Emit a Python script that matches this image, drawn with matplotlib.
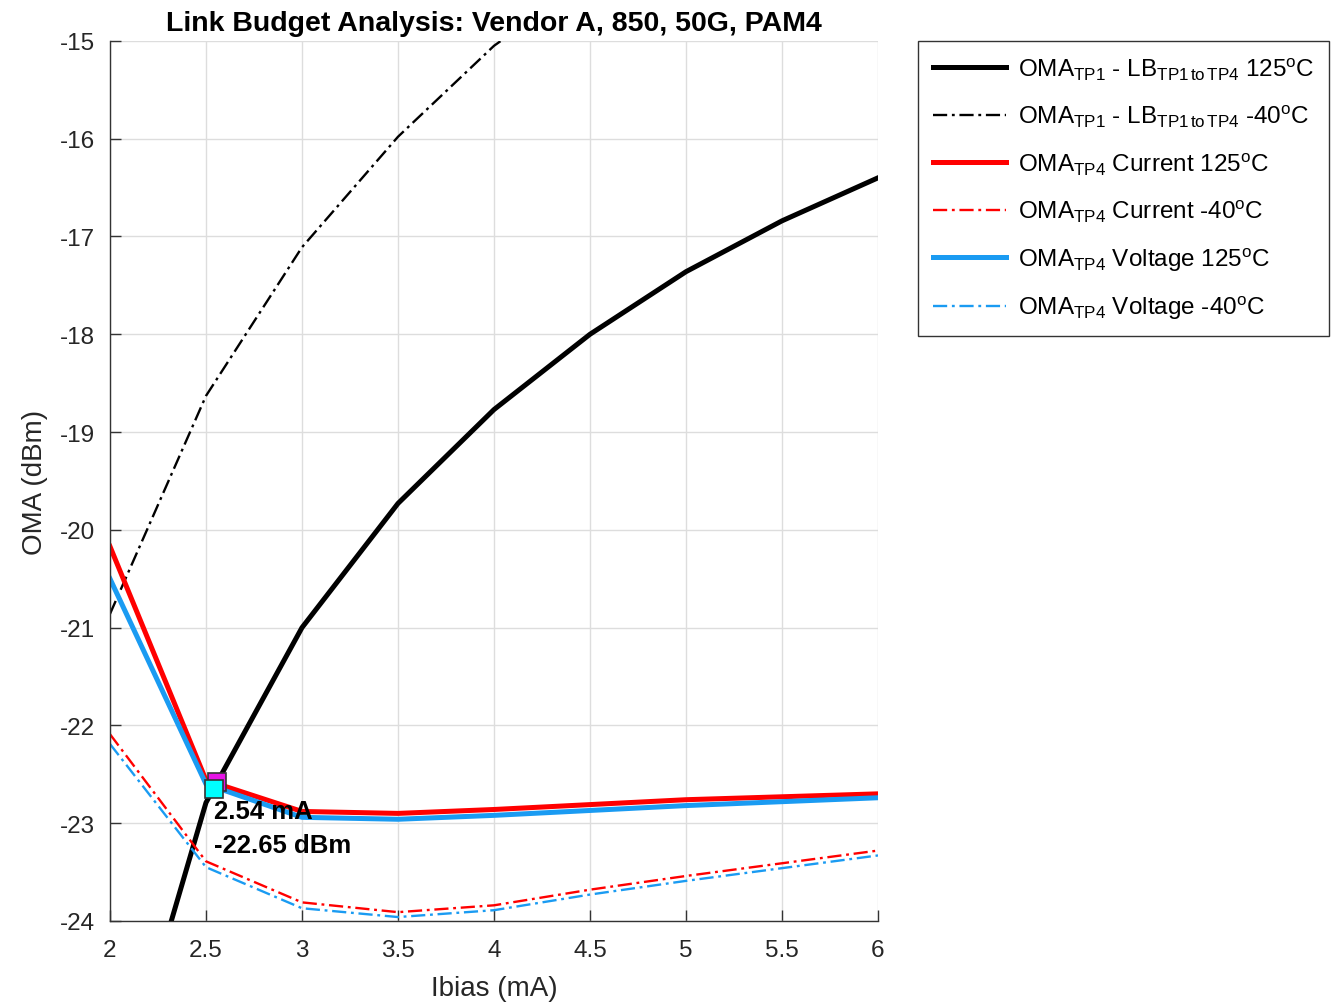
import matplotlib.pyplot as plt
import numpy as np

plt.rcParams["font.family"] = ["Liberation Sans", "DejaVu Sans"]
plt.rcParams["mathtext.fontset"] = "custom"
plt.rcParams["mathtext.rm"] = "Liberation Sans"
plt.rcParams["mathtext.it"] = "Liberation Sans:italic"
plt.rcParams["mathtext.bf"] = "Liberation Sans:bold"
plt.rcParams["axes.unicode_minus"] = False

# Bias current sweep (mA)
ibias = [2.0, 2.5, 3.0, 3.5, 4.0, 4.5, 5.0, 5.5, 6.0]

# OMA at TP1 minus link budget TP1->TP4 (dBm)
lb_125 = [-26.14, -22.79, -21.00, -19.73, -18.77, -18.00, -17.36, -16.84, -16.40]
lb_m40_x = [2.0, 2.5, 3.0, 3.5, 4.0, 4.5]
lb_m40 = [-20.86, -18.63, -17.11, -15.98, -15.05, -14.35]

# OMA at TP4, current-mode driver (dBm)
cur_125 = [-20.17, -22.56, -22.88, -22.90, -22.86, -22.81, -22.76, -22.73, -22.70]
cur_m40 = [-22.09, -23.39, -23.81, -23.91, -23.84, -23.68, -23.54, -23.41, -23.28]

# OMA at TP4, voltage-mode driver (dBm)
volt_125 = [-20.50, -22.60, -22.94, -22.96, -22.92, -22.87, -22.82, -22.78, -22.74]
volt_m40 = [-22.19, -23.45, -23.87, -23.96, -23.89, -23.73, -23.59, -23.46, -23.33]

# crossing points with the 125C link budget curve
cross_cur = (2.556, -22.58)
cross_volt = (2.54, -22.65)

RED = "#ff0000"
BLUE = "#1a9bf2"
DASHDOT = (0, (6, 2, 1.2, 2))
THICK = 3.6
THIN = 1.7

fig = plt.figure(figsize=(13.38, 10.03), dpi=100)
ax = fig.add_axes([0.0822, 0.0808, 0.574, 0.8774])

ax.plot(ibias, lb_125, color="black", lw=THICK,
        label=r"OMA$_{\mathrm{TP1}}$ - LB$_{\mathrm{TP1\,to\,TP4}}$ 125$^{\mathrm{o}}$C")
ax.plot(lb_m40_x, lb_m40, color="black", lw=THIN, ls=DASHDOT,
        label=r"OMA$_{\mathrm{TP1}}$ - LB$_{\mathrm{TP1\,to\,TP4}}$ -40$^{\mathrm{o}}$C")
ax.plot(ibias, cur_125, color=RED, lw=THICK,
        label=r"OMA$_{\mathrm{TP4}}$ Current 125$^{\mathrm{o}}$C")
ax.plot(ibias, cur_m40, color=RED, lw=THIN, ls=DASHDOT,
        label=r"OMA$_{\mathrm{TP4}}$ Current -40$^{\mathrm{o}}$C")
ax.plot(ibias, volt_125, color=BLUE, lw=THICK,
        label=r"OMA$_{\mathrm{TP4}}$ Voltage 125$^{\mathrm{o}}$C")
ax.plot(ibias, volt_m40, color=BLUE, lw=THIN, ls=DASHDOT,
        label=r"OMA$_{\mathrm{TP4}}$ Voltage -40$^{\mathrm{o}}$C")

ax.plot(*cross_cur, marker="s", ms=13, mfc="#e614e6", mec="#333333", mew=1.2, zorder=5)
ax.plot(*cross_volt, marker="s", ms=13, mfc="#00ffff", mec="#333333", mew=1.2, zorder=6)
ax.annotate(f"{cross_volt[0]:.2f} mA\n{cross_volt[1]:.2f} dBm", xy=cross_volt,
            xytext=(0, -7), textcoords="offset points", ha="left", va="top",
            fontsize=18.5, fontweight="bold", linespacing=1.55, zorder=7)

ax.set_xlim(2, 6)
ax.set_ylim(-24, -15)
ax.set_xticks(np.arange(2, 6.01, 0.5))
ax.set_xticklabels(["2", "2.5", "3", "3.5", "4", "4.5", "5", "5.5", "6"])
ax.set_yticks(np.arange(-24, -14.9, 1))
ax.grid(True, color="#dddddd", lw=1.0)
ax.set_axisbelow(True)
for side in ("top", "right"):
    ax.spines[side].set_visible(False)
for side in ("left", "bottom"):
    ax.spines[side].set_color("#333333")
    ax.spines[side].set_linewidth(1.0)
ax.tick_params(direction="in", length=8, width=1.0, color="#333333",
               labelsize=17.5, labelcolor="#262626")
ax.tick_params(axis="x", pad=13)
ax.tick_params(axis="y", pad=11)

ax.set_xlabel("Ibias (mA)", fontsize=20, color="#262626", labelpad=10)
ax.set_ylabel("OMA (dBm)", fontsize=20, color="#262626", labelpad=8)
ax.set_title("Link Budget Analysis: Vendor A, 850, 50G, PAM4",
             fontsize=20.5, fontweight="bold", pad=8)

leg = fig.legend(loc="upper left", bbox_to_anchor=(918 / 1338, 1 - 42 / 1003),
                 fontsize=17.5, frameon=True, fancybox=False, edgecolor="black",
                 handlelength=3.0, handletextpad=0.5, labelspacing=0.88,
                 borderpad=0.6, borderaxespad=0)
leg.get_frame().set_linewidth(1.0)

fig.savefig("out.png", dpi=100)
